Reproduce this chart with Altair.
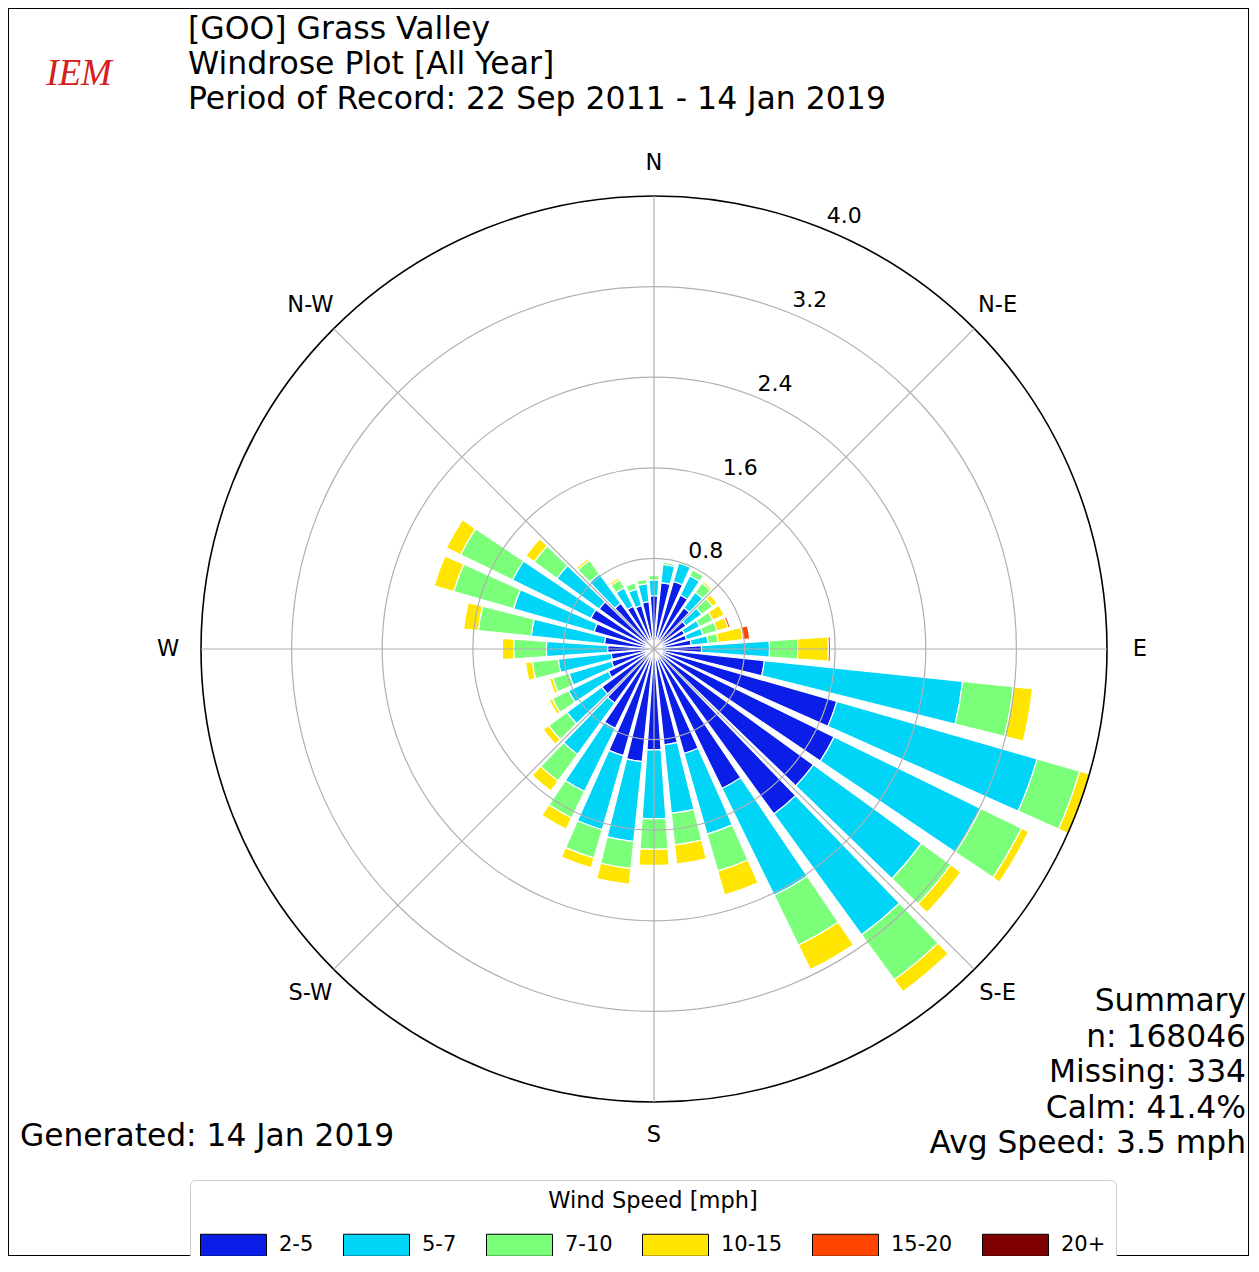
import math
import altair as alt
import pandas as pd

# ---------------- data ----------------
directions = list(range(0, 360, 10))
# cumulative outer edge (percent) of each speed bin, per direction
top_2_5 = [0.47, 0.59, 0.62, 0.53, 0.45, 0.35, 0.30, 0.30, 0.33, 0.42,
           0.98, 1.68, 1.77, 1.74, 1.80, 1.37, 0.96, 0.85, 0.89, 1.00,
           0.98, 0.78, 0.59, 0.57, 0.45, 0.39, 0.38, 0.41, 0.44, 0.55,
           0.62, 0.60, 0.50, 0.42, 0.40, 0.42]
top_5_7 = [0.61, 0.75, 0.79, 0.72, 0.62, 0.52, 0.45, 0.45, 0.48, 1.02,
           2.74, 3.52, 3.21, 2.92, 3.12, 2.42, 1.70, 1.46, 1.50, 1.71,
           1.66, 1.40, 1.15, 0.95, 0.84, 0.78, 0.85, 0.95, 1.09, 1.29,
           1.39, 1.06, 0.82, 0.60, 0.55, 0.58]
top_7_10 = [0.65, 0.77, 0.81, 0.78, 0.72, 0.64, 0.58, 0.58, 0.57, 1.27,
            3.19, 3.91, 3.61, 3.24, 3.61, 2.91, 2.04, 1.74, 1.77, 1.95,
            1.92, 1.66, 1.44, 1.15, 1.00, 0.93, 1.08, 1.24, 1.56, 1.84,
            1.90, 1.31, 0.97, 0.68, 0.61, 0.62]
top_10_15 = [0.66, 0.78, 0.81, 0.79, 0.74, 0.69, 0.69, 0.68, 0.79, 1.54,
             3.36, 4.00, 3.68, 3.35, 3.74, 3.15, 2.26, 1.91, 1.91, 2.09,
             2.01, 1.77, 1.55, 1.21, 1.03, 0.96, 1.14, 1.34, 1.69, 2.02,
             2.04, 1.40, 0.99, 0.70, 0.62, 0.63]
top_15_20 = [0.66, 0.78, 0.81, 0.79, 0.74, 0.69, 0.69, 0.70, 0.85, 1.56,
             3.36, 4.00, 3.68, 3.35, 3.74, 3.15, 2.26, 1.91, 1.91, 2.09,
             2.01, 1.77, 1.55, 1.21, 1.03, 0.96, 1.14, 1.34, 1.69, 2.02,
             2.04, 1.40, 0.99, 0.70, 0.62, 0.63]
top_20_plus = list(top_15_20)

speed_bins = ["2-5", "5-7", "7-10", "10-15", "15-20", "20+"]
bin_colors = ["#0a1ee8", "#00d4f7", "#7bff7b", "#ffe500", "#ff4500", "#7f0000"]

ring_values = [0.8, 1.6, 2.4, 3.2]
tick_values = [0.8, 1.6, 2.4, 3.2, 4.0]
compass_angles = [0, 45, 90, 135, 180, 225, 270, 315]
compass_labels = ["N", "N-E", "E", "S-E", "S", "S-W", "W", "N-W"]

title_lines = ["[GOO] Grass Valley", "Windrose Plot [All Year]",
               "Period of Record: 22 Sep 2011 - 14 Jan 2019"]
summary_lines = ["Summary", "n: 168046", "Missing: 334", "Calm: 41.4%",
                 "Avg Speed: 3.5 mph"]
generated_text = "Generated: 14 Jan 2019"
legend_title = "Wind Speed [mph]"

# ---------------- geometry ----------------
W, H = 1241, 1248
R_MAX = 4.0
R_PX = 453
CX, CY = 646, 641
HALF_OPEN = 4.0  # degrees each side of a sector centre

xscale = alt.Scale(domain=[-R_MAX, R_MAX], range=[CX - R_PX, CX + R_PX])
yscale = alt.Scale(domain=[-R_MAX, R_MAX], range=[CY + R_PX, CY - R_PX])
rscale = alt.Scale(type="linear", domain=[0, R_MAX], range=[0, R_PX], zero=True)
tscale = alt.Scale(domain=[0, 360], range=[0, 2 * math.pi])

tops = [top_2_5, top_5_7, top_7_10, top_10_15, top_15_20, top_20_plus]
rows = []
for i, d in enumerate(directions):
    prev = 0.0
    for k, b in enumerate(speed_bins):
        cur = tops[k][i]
        if cur - prev > 1e-9:
            rows.append({"dir": d, "t0": d - HALF_OPEN, "t1": d + HALF_OPEN,
                         "r0": prev, "r1": cur, "bin": b, "order": k})
        prev = max(prev, cur)
bars_df = pd.DataFrame(rows)

cx_enc = alt.XDatum(0, type="quantitative", scale=xscale, axis=None)
cy_enc = alt.YDatum(0, type="quantitative", scale=yscale, axis=None)

bars = alt.Chart(bars_df).mark_arc(stroke="white", strokeWidth=1.2).encode(
    x=cx_enc,
    y=cy_enc,
    theta=alt.Theta("t0:Q", scale=tscale, stack=None),
    theta2="t1:Q",
    radius=alt.Radius("r1:Q", scale=rscale, stack=None),
    radius2="r0:Q",
    color=alt.Color(
        "bin:N",
        scale=alt.Scale(domain=speed_bins, range=bin_colors),
        sort=speed_bins,
        legend=alt.Legend(
            orient="none", legendX=182, legendY=1172, direction="horizontal",
            columns=6, title=legend_title, titleAnchor="middle", titleLimit=0,
            titleFontSize=22.5, titleFontWeight="normal", titlePadding=10,
            titleColor="black", labelColor="black", labelLimit=0,
            labelFontSize=21, symbolType="M-1,-0.5H2V0.5H-1Z", symbolSize=1936,
            symbolStrokeColor="black", symbolStrokeWidth=1, symbolOpacity=1,
            labelOffset=34, columnPadding=27, padding=10,
            fillColor="white", strokeColor="#cccccc", cornerRadius=5,
        ),
    ),
    order=alt.Order("order:Q"),
)

rings = alt.Chart(pd.DataFrame({"r": ring_values})).mark_arc(
    fill="white", fillOpacity=0, stroke="#b0b0b0", strokeWidth=1.2
).encode(
    x=cx_enc, y=cy_enc,
    theta=alt.value(0), theta2=alt.value(2 * math.pi),
    radius=alt.Radius("r:Q", scale=rscale, stack=None),
)

outer = alt.Chart(pd.DataFrame({"r": [R_MAX]})).mark_arc(
    fill="white", fillOpacity=0, stroke="black", strokeWidth=1.6
).encode(
    x=cx_enc, y=cy_enc,
    theta=alt.value(0), theta2=alt.value(2 * math.pi),
    radius=alt.Radius("r:Q", scale=rscale, stack=None),
)

spokes = alt.Chart(pd.DataFrame({"a": compass_angles})).transform_calculate(
    x0="0", y0="0",
    x2=f"{R_MAX} * sin(datum.a * PI / 180)",
    y2=f"{R_MAX} * cos(datum.a * PI / 180)",
).mark_rule(color="#b0b0b0", strokeWidth=1.2).encode(
    x=alt.X("x0:Q", scale=xscale, axis=None),
    y=alt.Y("y0:Q", scale=yscale, axis=None),
    x2="x2:Q", y2="y2:Q",
)

dir_labels = alt.Chart(pd.DataFrame({"a": compass_angles, "lab": compass_labels})).transform_calculate(
    lx="4.29 * sin(datum.a * PI / 180)",
    ly="4.29 * cos(datum.a * PI / 180)",
).mark_text(fontSize=22.5, color="black", align="center", baseline="middle").encode(
    x=alt.X("lx:Q", scale=xscale, axis=None),
    y=alt.Y("ly:Q", scale=yscale, axis=None),
    text="lab:N",
)

tick_labels = alt.Chart(pd.DataFrame({"v": tick_values})).transform_calculate(
    lx="datum.v * sin(22.5 * PI / 180)",
    ly="datum.v * cos(22.5 * PI / 180)",
    lab="format(datum.v, '.1f')",
).mark_text(fontSize=22, color="black", align="center", baseline="middle",
            dx=17, dy=-14).encode(
    x=alt.X("lx:Q", scale=xscale, axis=None),
    y=alt.Y("ly:Q", scale=yscale, axis=None),
    text="lab:N",
)

one = pd.DataFrame({"k": [0]})
title_txt = alt.Chart(one).mark_text(
    fontSize=31.5, align="left", baseline="top", lineHeight=35, color="black"
).encode(x=alt.value(180), y=alt.value(6), text=alt.value(title_lines))

logo_txt = alt.Chart(one).mark_text(
    fontSize=37, align="center", baseline="middle", color="#d42020",
    font="Liberation Serif", fontStyle="italic"
).encode(x=alt.value(71), y=alt.value(66), text=alt.value("IEM"))

summary_txt = alt.Chart(one).mark_text(
    fontSize=31.3, align="right", baseline="top", lineHeight=35.5, color="black"
).encode(x=alt.value(1238), y=alt.value(978), text=alt.value(summary_lines))

generated_txt = alt.Chart(one).mark_text(
    fontSize=31.3, align="left", baseline="middle", color="black"
).encode(x=alt.value(12), y=alt.value(1129), text=alt.value(generated_text))

chart = alt.layer(
    bars, rings, outer, spokes, dir_labels, tick_labels,
    title_txt, logo_txt, summary_txt, generated_txt,
).properties(
    width=W, height=H, padding=0,
    autosize=alt.AutoSizeParams(type="none"),
).configure(font="DejaVu Sans").configure_view(stroke="black", strokeWidth=2)

chart.save("out.html", embed_options={"renderer": "svg", "actions": False})
